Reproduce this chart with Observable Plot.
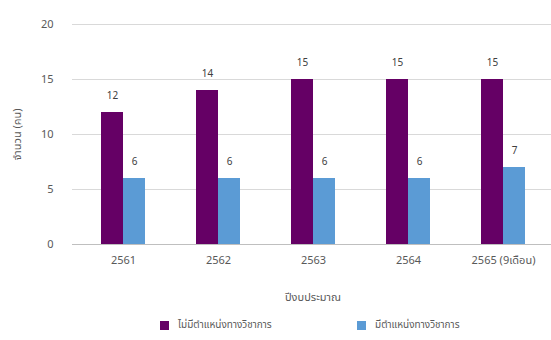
<!DOCTYPE html>
<html>
<head>
<meta charset="utf-8">
<script src="https://cdn.jsdelivr.net/npm/d3@7"></script>
<script src="https://cdn.jsdelivr.net/npm/@observablehq/plot@0.6"></script>
<style>
  body { margin: 0; background: #fff; font-family: "Noto Sans", "Noto Sans Thai", Tahoma, sans-serif; }
  #legend { display: flex; align-items: center; height: 30px; font-size: 10px; color: #595959; position: relative; }
  .item { position: absolute; display: flex; align-items: center; top: 7px; }
  .sw { width: 9px; height: 9px; margin-right: 9px; }
</style>
</head>
<body>
<div id="chart"></div>
<div id="legend"></div>
<script>
const years = ["2561", "2562", "2563", "2564", "2565 (9เดือน)"];
const noPosition = [12, 14, 15, 15, 15];
const withPosition = [6, 6, 6, 6, 7];
const seriesNames = ["ไม่มีตำแหน่งทางวิชาการ", "มีตำแหน่งทางวิชาการ"];
const colors = ["#650065", "#5b9bd5"];
const yTicks = [0, 5, 10, 15, 20];

const data = years.map((y, i) => ({year: y, a: noPosition[i], b: withPosition[i]}));

const chart = Plot.plot({
  width: 551,
  height: 310,
  marginLeft: 74,
  marginRight: 0,
  marginTop: 24,
  marginBottom: 66,
  style: {fontFamily: '"Noto Sans", "Noto Sans Thai", Tahoma, sans-serif', fontSize: "10px", color: "#595959"},
  x: {domain: years, paddingInner: 0.54, paddingOuter: 0.27, label: null},
  y: {domain: [0, 20], label: null},
  marks: [
    Plot.gridY(yTicks, {stroke: "#d9d9d9", strokeOpacity: 1, insetLeft: -2}),
    Plot.ruleY([0], {stroke: "#bfbfbf", insetLeft: -2}),
    Plot.axisY(yTicks, {tickSize: 0, tickPadding: 21, fontSize: 11, label: "จำนวน (คน)", labelAnchor: "center", labelOffset: 61, labelArrow: "none"}),
    Plot.axisX({tickSize: 0, tickPadding: 12, fontSize: 11, label: "ปีงบประมาณ", labelAnchor: "center", labelOffset: 56, labelArrow: "none"}),
    Plot.barY(data, {x: "year", y: "a", fill: colors[0], insetRight: 22}),
    Plot.barY(data, {x: "year", y: "b", fill: colors[1], insetLeft: 22}),
    Plot.text(data, {x: "year", y: "a", text: "a", dx: -11, dy: -17, fill: "#404040", fontSize: 10}),
    Plot.text(data, {x: "year", y: "b", text: "b", dx: 11, dy: -17, fill: "#404040", fontSize: 10})
  ]
});
document.getElementById("chart").appendChild(chart);

const legend = document.getElementById("legend");
const lefts = [160, 357];
seriesNames.forEach((n, i) => {
  const it = document.createElement("div");
  it.className = "item";
  it.style.left = lefts[i] + "px";
  it.innerHTML = `<div class="sw" style="background:${colors[i]}"></div><span>${n}</span>`;
  legend.appendChild(it);
});
</script>
</body>
</html>
